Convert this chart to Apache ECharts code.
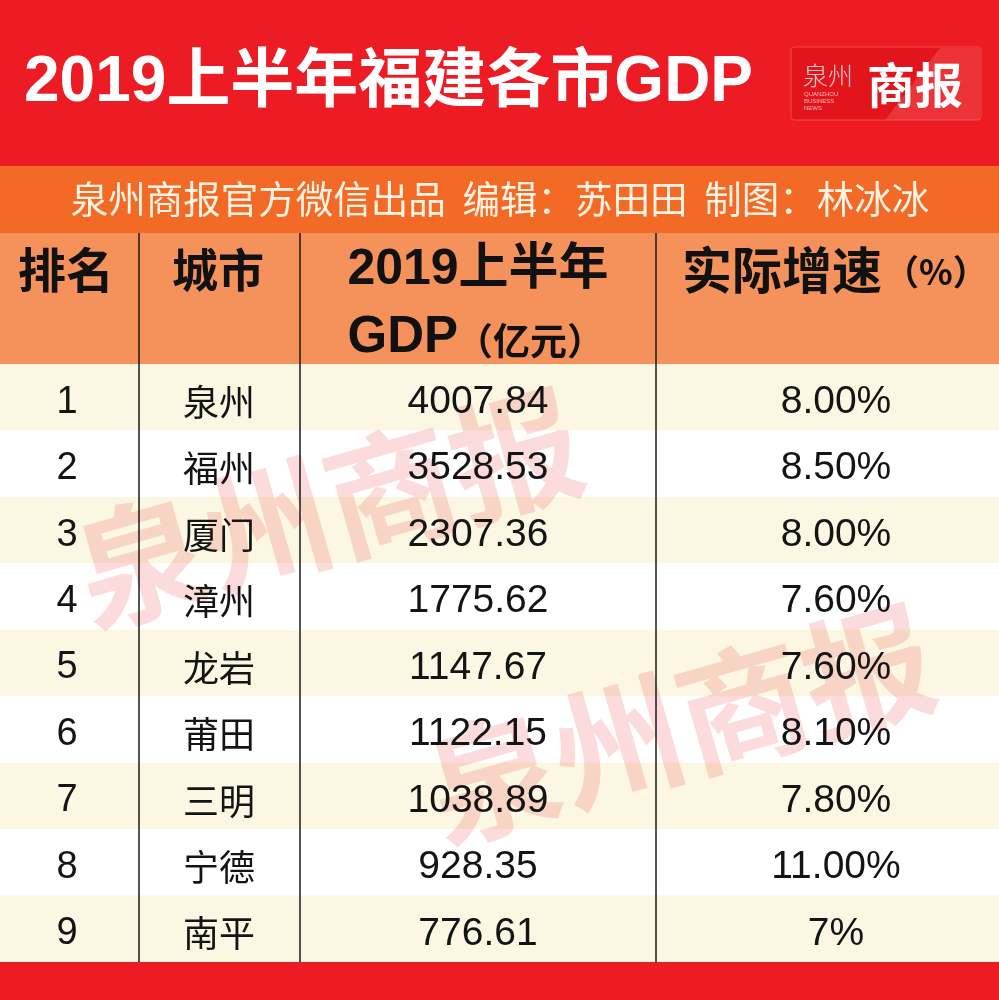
<!DOCTYPE html>
<html>
<head>
<meta charset="utf-8">
<script src="https://cdn.jsdelivr.net/npm/echarts@6/dist/echarts.min.js"></script>
<style>
html,body{margin:0;padding:0;background:#fff;}
#chart{width:999px;height:1000px;}
</style>
</head>
<body>
<div id="chart"></div>
<script>
// ---- data ----
var titleText = '2019上半年福建各市GDP';
var subtitleText = '泉州商报官方微信出品  编辑：苏田田  制图：林冰冰';
var headers = ['排名', '城市', '2019上半年', '实际增速'];
var ranks = ['1', '2', '3', '4', '5', '6', '7', '8', '9'];
var cities = ['泉州', '福州', '厦门', '漳州', '龙岩', '莆田', '三明', '宁德', '南平'];
var gdp = [4007.84, 3528.53, 2307.36, 1775.62, 1147.67, 1122.15, 1038.89, 928.35, 776.61];
var growth = ['8.00%', '8.50%', '8.00%', '7.60%', '7.60%', '8.10%', '7.80%', '11.00%', '7%'];

// ---- layout ----
var W = 999, H = 1000;
var colCenters = [67, 219, 478, 836];
var colLines = [139, 300, 656];
var tableTop = 364, tableBottom = 962;
var LAT = '"Liberation Sans", Arial, "Noto Sans CJK SC", sans-serif';
var CJK = '"Noto Sans CJK SC", "Liberation Sans", sans-serif';

var chart = echarts.init(document.getElementById('chart'));

function txt(text, x, y, font, fill, align, extra) {
  var el = {
    type: 'text', x: x, y: y, z: 20,
    style: { text: text, x: 0, y: 0, font: font, fill: fill,
      textAlign: align || 'center', align: align || 'center',
      textVerticalAlign: 'middle', verticalAlign: 'middle' }
  };
  if (extra) for (var k in extra) el[k] = extra[k];
  return el;
}

var graphics = [
  // top red band
  { type: 'rect', z: 1, shape: { x: 0, y: 0, width: W, height: 166 }, style: { fill: '#ED1C24' } },
  // subtitle orange band
  { type: 'rect', z: 1, shape: { x: 0, y: 166, width: W, height: 67 }, style: { fill: '#F26A25' } },
  // header band
  { type: 'rect', z: 1, shape: { x: 0, y: 233, width: W, height: tableTop - 233 }, style: { fill: '#F5915A' } },
  // bottom red band
  { type: 'rect', z: 1, shape: { x: 0, y: tableBottom, width: W, height: H - tableBottom }, style: { fill: '#ED1C24' } },
  // logo box
  { type: 'rect', z: 2, shape: { x: 791, y: 47, width: 190, height: 73, r: 3 }, style: { fill: '#E2151D', stroke: '#F04A4F', lineWidth: 1 } },
  { type: 'polygon', z: 2, shape: { points: [[940, 48], [980, 48], [980, 120], [885, 120]] }, style: { fill: 'rgba(255,110,110,0.35)' } },
  txt('泉州', 828, 75, '300 25px ' + CJK, '#F8C6C6'),
  txt('QUANZHOU', 804, 94, '6px ' + LAT, '#F6B8B8', 'left'),
  txt('BUSINESS', 804, 101, '6px ' + LAT, '#F6B8B8', 'left'),
  txt('NEWS', 804, 108, '6px ' + LAT, '#F6B8B8', 'left'),
  txt('商报', 915, 85, 'bold 48px ' + CJK, '#FFFFFF'),
  // title
  txt(titleText, 24, 83, 'bold 64px ' + LAT, '#FFFFFF', 'left'),
  // subtitle
  txt(subtitleText, 500, 199, '37.5px ' + CJK, '#FFF3E3'),
  // headers
  txt(headers[0], 66, 270, 'bold 48px ' + CJK, '#111111'),
  txt(headers[1], 218, 270, 'bold 46px ' + CJK, '#111111'),
  txt(headers[2], 478, 270, 'bold 50px ' + LAT, '#111111'),
  txt('GDP', 458, 338, 'bold 51px ' + LAT, '#111111', 'right'),
  txt('（亿元）', 456, 341, 'bold 37px ' + CJK, '#111111', 'left'),
  txt(headers[3], 682, 270, 'bold 50px ' + CJK, '#111111', 'left'),
  txt('（%）', 884, 272, 'bold 35px ' + CJK, '#111111', 'left'),
  // watermarks
  txt('泉州商报', 328, 508, 'bold 130px ' + CJK, 'rgba(232,40,40,0.17)', 'center', { rotation: 16 * Math.PI / 180, z: 6 }),
  txt('泉州商报', 680, 724, 'bold 130px ' + CJK, 'rgba(232,40,40,0.17)', 'center', { rotation: 16 * Math.PI / 180, z: 6 })
];
colLines.forEach(function (x) {
  graphics.push({ type: 'line', z: 15, shape: { x1: x, y1: 233, x2: x, y2: tableBottom }, style: { stroke: '#1A1A1A', lineWidth: 1.5 } });
});

var rowData = ranks.map(function (r, i) { return [0, i]; });

var option = {
  backgroundColor: '#FFFFFF',
  animation: false,
  grid: { left: 0, right: 0, top: tableTop, height: tableBottom - tableTop, containLabel: false },
  xAxis: { type: 'value', min: 0, max: W, show: false },
  yAxis: { type: 'category', data: ranks, inverse: true, show: false },
  graphic: graphics,
  series: [
    {
      type: 'custom', z: 2, silent: true,
      data: rowData,
      renderItem: function (params, api) {
        var yi = api.value(1);
        var p = api.coord([0, yi]);
        var h = api.size([0, 1])[1];
        return { type: 'rect', shape: { x: 0, y: p[1] - h / 2, width: W, height: h },
          style: { fill: yi % 2 === 0 ? '#FBF7E2' : '#FFFFFF' } };
      }
    },
    {
      type: 'custom', z: 10, silent: true,
      data: rowData,
      renderItem: function (params, api) {
        var i = params.dataIndex;
        var yi = api.value(1);
        var texts = [
          { t: ranks[i], f: '38px ' + LAT },
          { t: cities[i], f: '36px ' + CJK },
          { t: gdp[i].toFixed(2), f: '39px ' + LAT },
          { t: growth[i], f: '39px ' + LAT }
        ];
        return {
          type: 'group',
          children: texts.map(function (d, c) {
            var p = api.coord([colCenters[c], yi]);
            return { type: 'text', x: p[0], y: p[1] + 5,
              style: { text: d.t, font: d.f, fill: '#141414',
                textAlign: 'center', align: 'center', textVerticalAlign: 'middle', verticalAlign: 'middle' } };
          })
        };
      }
    }
  ]
};
chart.setOption(option);
</script>
</body>
</html>
